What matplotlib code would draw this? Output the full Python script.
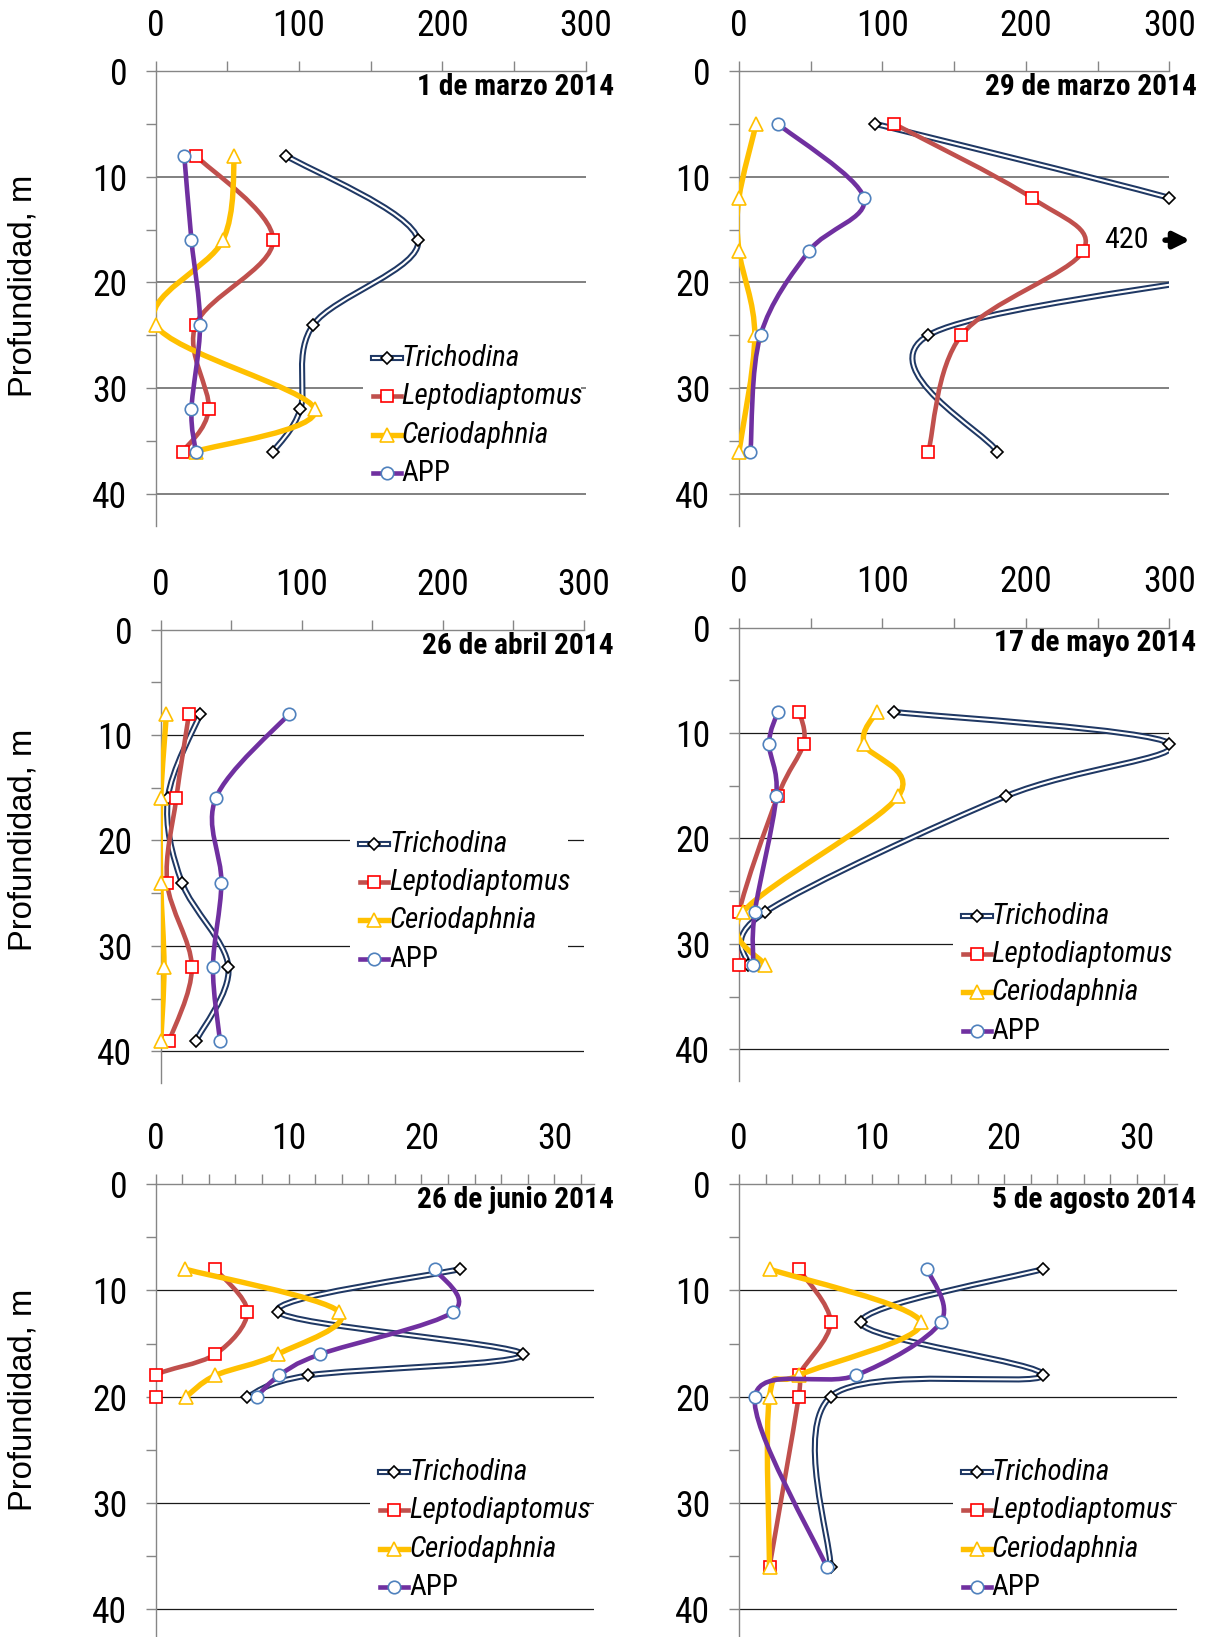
import numpy as np
import matplotlib
matplotlib.use('Agg')
import matplotlib.pyplot as plt
from matplotlib import font_manager
from matplotlib.font_manager import FontProperties
from matplotlib.textpath import TextPath
from matplotlib.path import Path
from matplotlib.patches import PathPatch, Rectangle
from matplotlib.lines import Line2D

# ---- data ----
titles = ['1 de marzo 2014', '29 de marzo 2014', '26 de abril 2014',
          '17 de mayo 2014', '26 de junio 2014', '5 de agosto 2014']
species = ['Trichodina', 'Leptodiaptomus', 'Ceriodaphnia', 'APP']

depth_1 = [8, 16, 24, 32, 36]
depth_2 = [5, 12, 17, 25, 36]
depth_3 = [8, 16, 24, 32, 39]
depth_4 = [8, 11, 16, 27, 32]
depth_5 = [8, 12, 16, 18, 20]
depth_6 = [8, 13, 18, 20, 36]

trich_1 = [91, 183, 110, 101, 82]
trich_2 = [95, 300, 420, 132, 180]
trich_3 = [28, 5, 15, 48, 25]
trich_4 = [108, 300, 186, 18, 6]
trich_5 = [22.9, 9.2, 27.6, 11.5, 6.9]
trich_6 = [22.9, 9.2, 22.9, 6.9, 6.9]

lepto_1 = [28, 82, 28, 37, 19]
lepto_2 = [108, 204, 240, 155, 132]
lepto_3 = [20, 11, 4.5, 22, 6]
lepto_4 = [42, 45, 27, 0, 0]
lepto_5 = [4.5, 6.9, 4.5, 0, 0]
lepto_6 = [4.5, 6.9, 4.5, 4.5, 2.3]

cerio_1 = [55, 47, 0, 111, 28]
cerio_2 = [12, 0, 0, 11, 0]
cerio_3 = [4, 0, 0, 2.3, 0]
cerio_4 = [96, 87, 111, 2.7, 18]
cerio_5 = [2.2, 13.8, 9.2, 4.5, 2.3]
cerio_6 = [2.3, 13.7, 4.5, 2.3, 2.3]

app_1 = [20, 25, 31, 25, 28]
app_2 = [27, 87, 49, 15, 8]
app_3 = [91, 39, 43, 37, 42]
app_4 = [27, 21, 26, 11, 10]
app_5 = [21, 22.4, 12.4, 9.3, 7.6]
app_6 = [14.2, 15.2, 8.8, 1.2, 6.6]

depths = [depth_1, depth_2, depth_3, depth_4, depth_5, depth_6]
values = [[trich_1, lepto_1, cerio_1, app_1],
          [trich_2, lepto_2, cerio_2, app_2],
          [trich_3, lepto_3, cerio_3, app_3],
          [trich_4, lepto_4, cerio_4, app_4],
          [trich_5, lepto_5, cerio_5, app_5],
          [trich_6, lepto_6, cerio_6, app_6]]

# ---- fonts: want something like Arial Narrow (needs italic + bold faces) ----
faces = set()
for f in font_manager.fontManager.ttflist:
    try:
        faces.add((f.name, f.style, int(f.weight)))
    except (TypeError, ValueError):
        pass
NARROW = 'Liberation Sans'
for cand in ['Liberation Sans Narrow', 'Arial Narrow', 'Roboto Condensed',
             'Fira Sans Condensed', 'Barlow Semi Condensed']:
    if ((cand, 'normal', 400) in faces and (cand, 'italic', 400) in faces
            and (cand, 'normal', 700) in faces):
        NARROW = cand
        break


def fit_size(text, target_px, family, weight='normal', style='normal'):
    # font size (pt) that makes the ink width of text equal target_px at dpi 100
    prop = FontProperties(family=family, weight=weight, style=style)
    w = TextPath((0, 0), text, size=100, prop=prop).get_extents().width
    return target_px * 0.72 * 100 / w


tick_fs = fit_size('300', 49, NARROW)
title_fs = fit_size('29 de marzo 2014', 210, NARROW, weight='bold')
leg_fs = fit_size('Leptodiaptomus', 180, NARROW, style='italic')
note_fs = fit_size('420', 42, NARROW)
ylab_fs = fit_size('Profundidad, m', 217, 'Liberation Sans')

# ---- styles / layout ----
W, H = 1207, 1637
colors = ['#1F3864', '#C0504D', '#FFC000', '#7030A0']
widths = [4.4, 3.3, 3.9, 3.3]
markers = ['D', 's', '^', 'o']
msizes = [6.5, 9, 10, 9]
medges = ['black', '#FF0000', '#FFC000', '#4F81BD']

# axes boxes in pixels: left, top, right, bottom, xmax, ymax
boxes = [(155.6, 71, 585.7, 525.5, 300, 43),
         (739, 71, 1169.4, 525.5, 300, 43),
         (160.8, 629.6, 583.6, 1083, 300, 43),
         (739, 627.5, 1169.4, 1081, 300, 43),
         (155.6, 1184, 594.3, 1637, 33, 42.6),
         (739, 1184, 1176.8, 1637, 33, 42.6)]
title_right = [614, 1196.5, 614, 1196.5, 614, 1196.5]
# legend: handle left x, first row y (pixels)
legends = [(372.7, 358), None, (360, 843.6), (962.7, 915.7), (380, 1472), (962.7, 1472)]
row_gap = 38.3


def smooth_path(x, y):
    # Excel-like smoothed line: cubic bezier through the points
    p = np.column_stack([x, y]).astype(float)
    q = np.vstack([p[0], p, p[-1]])
    verts = [p[0]]
    codes = [Path.MOVETO]
    for i in range(1, len(q) - 2):
        c1 = q[i] + (q[i + 1] - q[i - 1]) / 6.0
        c2 = q[i + 1] - (q[i + 2] - q[i]) / 6.0
        verts += [c1, c2, q[i + 1]]
        codes += [Path.CURVE4] * 3
    return Path(verts, codes)


fig = plt.figure(figsize=(W / 100, H / 100), dpi=100)

for k in range(6):
    left, top, right, bottom, xmax, ymax = boxes[k]
    ax = fig.add_axes([left / W, 1 - bottom / H, (right - left) / W, (bottom - top) / H])
    d = np.array(depths[k], dtype=float)

    for s in range(4):
        v = np.array(values[k][s], dtype=float)
        path = smooth_path(v, d)
        ax.add_patch(PathPatch(path, facecolor='none', edgecolor=colors[s], lw=widths[s],
                               capstyle='round', joinstyle='round', zorder=3 + s))
        if s == 0:
            ax.add_patch(PathPatch(path, facecolor='none', edgecolor='white', lw=1.5,
                                   capstyle='round', joinstyle='round', zorder=3 + s))
        keep = v <= xmax
        ax.plot(v[keep], d[keep], linestyle='none', marker=markers[s], ms=msizes[s],
                mfc='white', mec=medges[s], mew=1.2, clip_on=False, zorder=3.5 + s)

    ax.set_ylim(ymax, 0)
    ax.set_xlim(0, xmax)

    if xmax == 300:
        ax.set_xticks([0, 100, 200, 300])
        ax.set_xticks([50, 150, 250], minor=True)
    else:
        ax.set_xticks([0, 10, 20, 30])
        ax.set_xticks(np.arange(2, 33, 2), minor=True)
    ax.set_yticks([0, 10, 20, 30, 40])
    ax.set_yticks([5, 15, 25, 35], minor=True)
    ax.xaxis.tick_top()
    ax.tick_params(axis='both', which='both', direction='out', length=7.5,
                   color='#868686', width=1.0)
    ax.tick_params(axis='x', pad=12)
    ax.tick_params(axis='y', pad=13)
    for lab in ax.get_xticklabels() + ax.get_yticklabels():
        lab.set_fontfamily(NARROW)
        lab.set_fontsize(tick_fs)

    for side in ['right', 'bottom']:
        ax.spines[side].set_visible(False)
    for side in ['left', 'top']:
        ax.spines[side].set_color('#868686')
        ax.spines[side].set_linewidth(1.0)

    if k < 2:
        gcol, glw = '#808080', 1.4
    else:
        gcol, glw = '#1a1a1a', 0.9
    for g in [10, 20, 30, 40]:
        ax.axhline(g, color=gcol, lw=glw, zorder=1)

    fig.text(title_right[k] / W, 1 - (top + 16) / H, titles[k], ha='right', va='center',
             fontsize=title_fs, fontweight='bold', family=NARROW)

    if k == 1:
        # Trichodina peak runs off the scale: value written at the edge
        ax.text(0.9, depth_2[2] - 1, f'{trich_2[2]:.0f}', transform=ax.get_yaxis_transform(),
                ha='center', va='center', fontsize=note_fs, family=NARROW)
        ax.annotate('', xy=(1.048, depth_2[2] - 1), xycoords=('axes fraction', 'data'),
                    xytext=(0.99, depth_2[2] - 1), textcoords=('axes fraction', 'data'),
                    arrowprops=dict(arrowstyle='-|>', lw=4, color='black', mutation_scale=24,
                                    shrinkA=0, shrinkB=0),
                    annotation_clip=False)

    if legends[k] is not None:
        x0, y0 = legends[k]
        ys = [y0 + i * row_gap for i in range(4)]
        fig.add_artist(Rectangle(((x0 - 10) / W, 1 - (ys[-1] + 14) / H), 218 / W,
                                 (ys[-1] - ys[0] + 36) / H, transform=fig.transFigure,
                                 facecolor='white', edgecolor='none', zorder=1))
        for s in range(4):
            yy = 1 - ys[s] / H
            fig.add_artist(Line2D([x0 / W, (x0 + 28) / W], [yy, yy], transform=fig.transFigure,
                                  color=colors[s], lw=widths[s], zorder=2))
            if s == 0:
                fig.add_artist(Line2D([x0 / W, (x0 + 28) / W], [yy, yy], transform=fig.transFigure,
                                      color='white', lw=1.5, zorder=2))
            fig.add_artist(Line2D([(x0 + 14) / W], [yy], transform=fig.transFigure,
                                  marker=markers[s], ms=msizes[s], mfc='white', mec=medges[s],
                                  mew=1.2, linestyle='none', zorder=2.5))
            fig.text((x0 + 29) / W, yy, species[s], ha='left', va='center', fontsize=leg_fs,
                     family=NARROW, style='normal' if s == 3 else 'italic', zorder=3)

for yc in [286, 840, 1400]:
    fig.text(23 / W, 1 - yc / H, 'Profundidad, m', rotation=90, ha='center', va='center',
             fontsize=ylab_fs, family='Liberation Sans')

fig.savefig('out.png', dpi=100)
